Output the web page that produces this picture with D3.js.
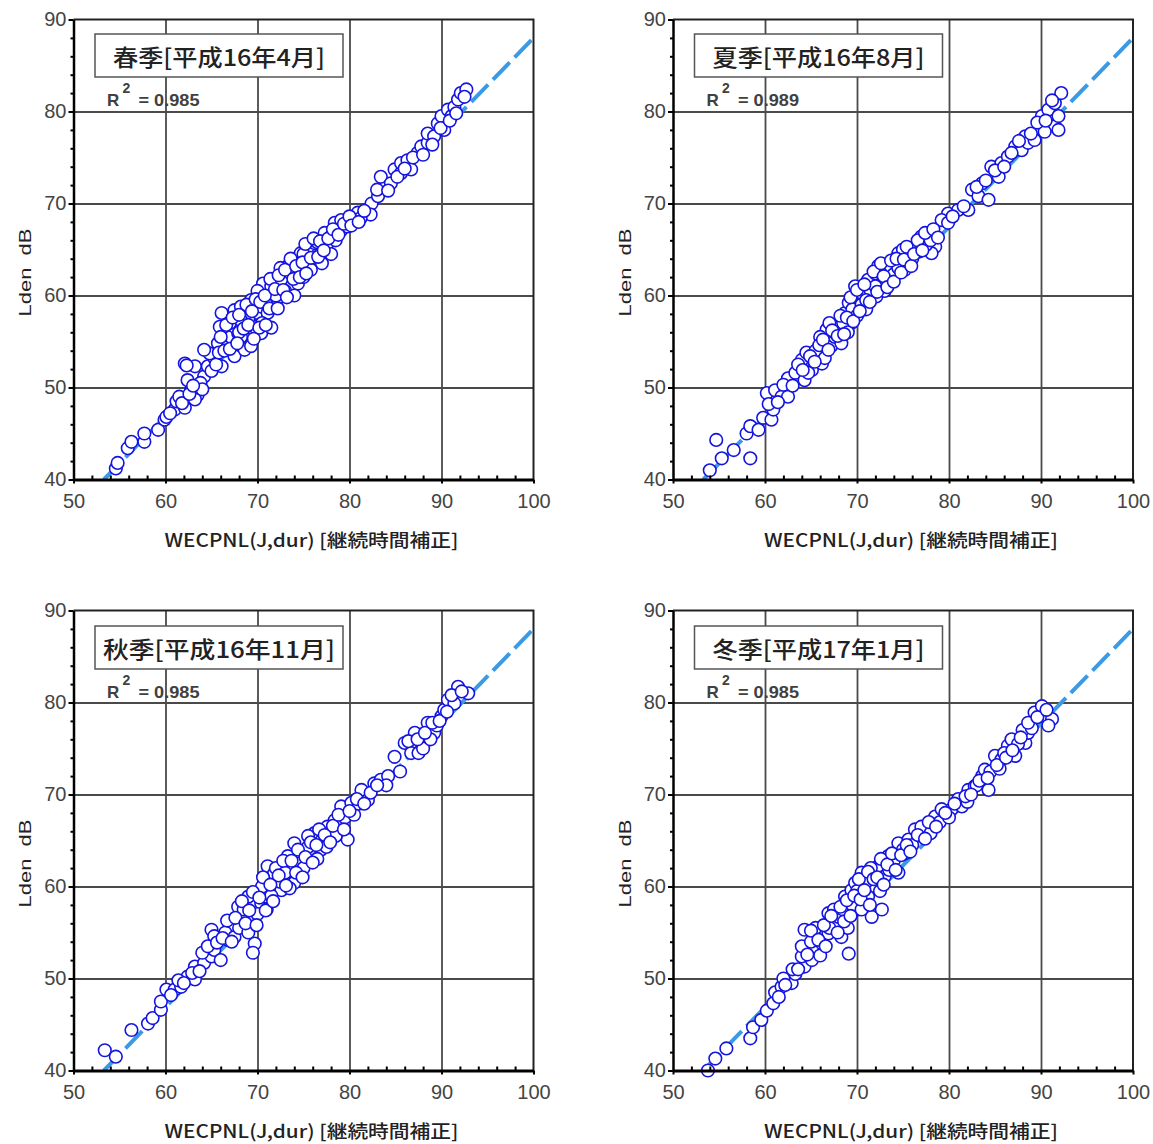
<!DOCTYPE html>
<html><head><meta charset="utf-8">
<script src="https://cdn.jsdelivr.net/npm/d3@7"></script>
<style>body{margin:0;background:#fff} svg{display:block}</style>
</head><body>
<svg id="chart" width="1153" height="1144"></svg>
<script>
const xTicks = [50, 60, 70, 80, 90, 100];
const yTicks = [40, 50, 60, 70, 80, 90];
const titles = ["春季[平成16年4月]", "夏季[平成16年8月]", "秋季[平成16年11月]", "冬季[平成17年1月]"];
const r2Labels = ["0.985", "0.989", "0.985", "0.985"];
const xTitle = "WECPNL(J,dur) [継続時間補正]";
const yTitle = "Lden  dB";
const regLineX = [53.3, 100];
const regLineY = [40, 88];

const spring = [[54.6,41.2],[54.8,41.8],[55.9,43.4],[56.3,44.1],[57.7,44.1],[57.7,45.0],[59.2,45.4],[59.9,46.5],[60.1,46.8],[61.0,47.6],[61.2,48.5],[61.5,49.0],[62.1,47.8],[62.8,49.7],[63.5,49.2],[63.2,48.7],[62.4,50.8],[62.1,52.6],[63.2,52.3],[64.2,51.2],[64.6,52.3],[65.3,53.2],[66.1,52.3],[64.8,53.7],[64.2,54.1],[65.7,54.8],[66.8,54.5],[67.5,53.4],[67.1,55.5],[65.9,56.6],[66.1,58.1],[67.5,58.4],[68.2,57.4],[68.2,58.8],[69.3,59.5],[68.9,58.1],[69.7,56.6],[68.9,55.2],[67.9,55.9],[68.6,54.1],[70.0,58.1],[70.4,58.8],[71.1,60.3],[70.6,61.3],[71.5,61.0],[71.8,59.5],[72.6,61.7],[73.3,63.2],[73.7,61.0],[74.4,62.4],[74.0,63.9],[74.7,64.6],[75.5,65.3],[76.2,63.9],[76.9,64.6],[76.2,65.7],[75.5,63.2],[74.4,61.3],[72.6,59.9],[71.1,58.1],[70.4,55.9],[69.3,54.5],[68.2,55.5],[67.5,56.6],[77.3,66.8],[78.0,66.4],[79.1,67.1],[78.4,67.9],[79.1,68.2],[79.8,67.5],[80.5,68.2],[80.9,69.0],[82.0,69.0],[82.4,70.0],[83.1,70.8],[83.8,71.8],[83.4,72.9],[84.5,72.2],[84.9,73.7],[85.6,73.3],[85.6,74.4],[86.3,74.7],[86.7,73.7],[87.4,75.5],[87.8,76.2],[88.5,76.6],[88.5,77.6],[89.2,77.3],[89.6,78.7],[90.0,79.5],[90.3,78.0],[90.7,80.2],[91.1,79.5],[91.4,80.5],[91.8,81.3],[92.1,82.0],[92.7,82.4],[92.5,81.6],[66.0,55.5],[67.0,57.0],[68.0,56.0],[69.0,57.5],[70.0,60.5],[70.5,57.0],[71.0,59.0],[71.5,56.5],[72.0,60.0],[72.5,63.0],[73.0,60.5],[73.5,62.5],[74.0,60.0],[74.5,63.5],[75.0,62.0],[75.0,64.5],[75.8,62.8],[76.5,65.8],[77.0,63.5],[77.5,65.5],[78.0,64.5],[78.5,66.0],[62.3,52.4],[68.2,57.3],[82.3,68.8],[81.2,68.4],
[60.5,47.2],[61.8,48.3],[62.6,49.3],[63.8,50.5],[64.0,49.8],[63.0,50.2],[65.0,51.8],[65.5,52.5],[65.8,53.8],[66.4,54.0],[66.6,56.8],[67.0,54.2],[67.3,57.6],[67.8,54.8],[68.0,57.9],[68.5,56.4],[68.8,59.0],[69.0,56.8],[69.4,58.3],[69.6,55.3],[69.8,59.6],[70.2,56.5],[70.3,59.3],[70.8,60.0],[70.9,56.8],[71.3,58.6],[71.4,61.8],[71.9,60.7],[72.2,58.6],[72.3,62.2],[72.8,60.6],[73.0,62.8],[73.2,59.8],[73.6,64.0],[73.9,61.8],[74.2,63.2],[74.6,62.0],[74.9,63.6],[75.2,65.6],[75.3,62.4],[75.8,64.1],[76.1,66.2],[76.6,64.2],[76.8,65.9],[77.2,64.9],[77.7,66.2],[78.2,67.2],[78.8,66.6],[79.4,67.8],[80.0,68.6],[80.2,67.6],[81.0,68.0],[81.6,69.2],[83.0,71.5],[84.2,71.4],[85.2,72.9],[86.0,73.8],[86.9,75.0],[88.0,75.3],[89.0,76.4],[89.9,78.2],[90.9,79.0],[91.6,79.8]];

const summer = [[54.0,41.0],[54.7,44.3],[55.3,42.3],[56.6,43.2],[58.4,42.3],[58.0,45.0],[58.4,45.8],[59.3,45.4],[59.8,46.7],[60.7,46.5],[60.9,47.6],[60.2,49.4],[61.1,49.7],[61.8,49.0],[62.5,49.0],[62.5,51.0],[63.3,51.6],[64.0,53.0],[64.3,50.8],[65.1,51.9],[64.7,51.6],[66.2,52.6],[66.7,56.3],[67.2,54.5],[67.6,55.5],[68.3,54.8],[68.0,56.6],[68.7,58.1],[69.4,57.0],[69.1,59.2],[69.8,61.0],[70.5,60.3],[71.2,61.7],[72.0,62.4],[72.1,59.9],[72.3,63.2],[73.4,63.2],[72.7,61.0],[74.1,63.9],[74.5,64.6],[75.6,64.6],[75.2,62.8],[76.3,65.3],[77.0,66.4],[77.8,66.8],[78.5,65.3],[78.1,64.6],[79.6,68.2],[79.9,68.9],[81.0,69.3],[82.1,69.3],[82.5,71.5],[83.2,70.8],[83.6,72.2],[84.3,70.4],[84.6,74.0],[85.4,72.9],[85.7,74.4],[86.4,75.1],[87.2,76.2],[87.9,75.8],[88.3,77.3],[88.6,76.6],[89.3,76.9],[90.1,79.5],[90.8,80.2],[91.5,78.4],[91.5,80.9],[92.2,82.0],[91.9,79.5],[91.9,78.0],[89.8,78.2],[90.4,77.8],[79.2,68.2],[79.9,67.9],[64.5,53.8],[65.5,54.0],[66.0,55.5],[66.5,53.2],[67.0,57.0],[67.5,56.0],[68.5,57.0],[69.0,56.0],[69.5,58.5],[70.0,57.8],[70.5,59.0],[71.0,58.5],[71.5,60.5],[72.0,61.0],[72.5,62.5],[73.0,60.5],[73.5,61.8],[74.0,62.3],[74.5,63.0],[75.0,65.0],[75.5,63.5],[76.0,64.0],[76.8,64.8],[77.5,65.5],[78.0,66.0],
[60.4,48.2],[61.4,48.4],[62.0,50.3],[63.0,50.2],[63.6,52.5],[64.1,51.9],[64.9,53.4],[65.4,52.8],[65.9,54.6],[66.3,55.2],[66.9,54.1],[67.3,56.2],[67.9,55.6],[68.2,57.8],[68.6,55.8],[68.9,57.6],[69.3,59.8],[69.6,57.2],[70.0,60.6],[70.3,58.3],[70.8,61.2],[71.0,59.5],[71.4,59.3],[71.8,62.6],[72.2,60.4],[72.6,63.5],[72.9,62.1],[73.3,60.9],[73.7,63.8],[74.0,61.5],[74.3,64.0],[74.8,62.5],[75.1,63.9],[75.4,65.3],[75.9,63.2],[76.2,64.5],[76.6,66.0],[77.1,64.9],[77.4,66.8],[78.3,67.2],[78.8,66.3],[80.4,68.6],[81.6,69.7],[83.0,71.8],[84.0,72.5],[85.0,73.6],[86.0,74.0],[86.8,75.5],[87.6,76.8],[88.9,77.6],[89.6,78.8],[90.5,79.0],[91.2,81.2]];

const autumn = [[53.4,42.2],[54.6,41.5],[56.3,44.4],[58.1,45.1],[58.6,45.7],[59.5,46.6],[59.5,47.5],[60.1,48.8],[61.0,48.8],[61.7,49.1],[62.4,50.2],[63.2,51.3],[63.2,49.9],[64.2,51.7],[65.0,52.4],[65.3,53.1],[66.0,52.0],[65.0,55.3],[65.3,54.6],[66.8,54.2],[67.1,55.7],[67.9,57.8],[68.2,56.7],[69.0,58.9],[69.3,56.0],[69.7,53.8],[69.5,52.8],[69.7,56.7],[70.4,58.2],[70.8,58.9],[71.1,60.4],[71.1,62.2],[71.8,61.4],[72.6,59.6],[73.3,63.3],[74.0,60.4],[74.0,64.7],[74.7,63.3],[75.5,64.3],[76.2,65.8],[76.9,64.0],[77.6,66.5],[78.4,67.2],[79.1,66.8],[79.1,68.7],[79.8,65.1],[80.2,69.1],[81.3,70.5],[82.0,69.4],[82.7,71.2],[83.4,71.6],[84.2,72.0],[84.9,74.1],[86.0,75.6],[86.7,74.5],[87.1,76.7],[87.8,75.6],[88.5,77.8],[89.2,76.7],[90.0,78.5],[90.3,79.2],[90.7,80.3],[91.4,79.9],[91.8,81.7],[92.9,81.0],[66.5,55.0],[67.5,54.5],[68.0,55.5],[68.5,57.5],[69.0,55.0],[70.0,57.0],[70.5,60.0],[71.0,57.5],[71.5,59.0],[72.0,62.0],[72.5,60.5],[73.0,61.5],[73.5,59.8],[74.5,62.5],[75.0,62.0],[75.5,65.5],[76.5,63.0],[77.0,65.0],[77.5,64.3],[78.0,66.0],[78.5,65.5],[79.5,67.5],[80.5,67.8],[81.0,69.0],[84.0,71.0],[85.5,72.5],[87.5,74.5],[88.0,75.0],[88.8,76.0],[89.5,77.5],
[60.6,48.2],[61.4,49.8],[62.0,49.5],[62.9,50.6],[63.7,50.8],[64.0,52.8],[64.6,53.5],[65.6,53.9],[66.2,54.4],[66.7,56.3],[67.2,54.0],[67.6,56.6],[68.3,58.4],[68.7,56.0],[69.1,57.4],[69.5,59.4],[69.9,55.8],[70.2,58.8],[70.6,61.0],[70.9,57.4],[71.4,60.2],[71.7,58.4],[72.3,61.2],[72.8,62.8],[73.1,60.1],[73.7,62.8],[74.2,61.5],[74.4,64.0],[74.9,61.0],[75.2,63.2],[75.8,64.8],[76.0,62.6],[76.4,64.5],[76.7,66.2],[77.3,65.6],[77.9,64.8],[78.2,66.6],[78.8,67.8],[79.4,66.2],[80.0,68.2],[80.8,69.5],[81.6,69.0],[82.3,70.2],[83.0,71.0],[86.4,75.8],[87.4,76.0],[88.2,76.7],[89.0,77.8],[89.8,78.0],[90.6,79.0],[91.1,80.8],[92.2,81.2]];

const winter = [[53.8,40.0],[54.6,41.3],[55.8,42.4],[58.4,43.5],[58.7,44.7],[59.6,45.5],[60.2,46.5],[60.9,47.3],[61.1,48.5],[61.8,49.1],[62.5,49.8],[62.9,49.5],[63.3,50.5],[64.3,51.3],[64.0,52.4],[65.1,52.0],[65.3,53.1],[64.3,55.3],[66.2,53.8],[66.9,54.9],[66.9,57.1],[67.6,56.0],[68.3,54.5],[69.1,52.7],[68.0,56.7],[68.7,58.9],[69.4,59.6],[70.1,57.5],[69.8,60.4],[70.5,61.5],[71.2,58.9],[71.6,56.7],[72.0,60.0],[72.3,62.2],[72.7,57.5],[73.0,61.1],[73.4,63.3],[74.5,64.7],[75.2,63.6],[75.6,65.1],[76.3,66.2],[77.0,65.5],[77.8,66.2],[78.5,67.6],[79.2,68.4],[80.3,68.4],[81.4,68.7],[82.1,70.5],[82.8,70.9],[83.6,72.0],[83.9,72.7],[84.3,70.5],[85.0,74.2],[85.7,73.8],[86.4,75.3],[86.8,76.0],[87.2,74.2],[88.3,75.6],[88.6,76.7],[89.3,78.9],[90.1,79.6],[90.4,78.5],[91.2,78.2],[90.8,77.5],[62.0,50.0],[63.0,51.0],[64.0,53.5],[65.0,54.0],[65.5,55.5],[66.0,52.5],[67.0,55.5],[67.5,57.5],[68.5,57.5],[69.0,55.5],[69.5,58.0],[70.0,59.5],[70.5,57.5],[71.0,60.5],[71.5,62.0],[72.5,59.5],[73.5,61.8],[74.0,62.8],[74.5,61.5],[75.0,64.0],[76.0,64.5],[77.0,66.5],[78.0,65.8],[79.0,67.0],[80.0,67.5],[81.0,69.5],[82.0,69.2],[83.0,71.0],[84.5,72.5],[85.5,72.8],[86.0,74.5],[87.5,75.5],[88.0,77.0],[89.0,77.2],
[61.5,48.0],[62.2,49.3],[63.6,51.0],[64.6,52.6],[65.0,55.2],[65.8,54.2],[66.4,55.8],[66.6,53.5],[67.2,56.8],[67.9,55.0],[68.2,57.8],[68.6,56.2],[68.9,58.5],[69.3,56.8],[69.7,59.0],[70.2,60.8],[70.4,58.6],[70.8,59.6],[71.2,61.6],[71.4,58.0],[71.8,60.8],[72.2,61.0],[72.6,63.0],[72.9,60.2],[73.3,62.4],[73.8,63.6],[74.2,61.8],[74.8,63.4],[75.4,64.5],[75.8,63.8],[76.6,65.6],[77.4,65.2],[77.8,67.0],[78.6,66.5],[79.6,68.0],[80.6,69.0],[81.8,69.8],[82.4,70.0],[83.3,71.5],[84.2,71.8],[85.2,73.2],[86.2,74.0],[86.9,74.8],[87.8,76.2],[88.6,77.8],[89.6,78.4],[90.6,79.2]];

const seriesList = [spring, summer, autumn, winter];

const panels = [
  {left: 73.5, bottom: 479.5},
  {left: 673, bottom: 479.5},
  {left: 73.5, bottom: 1070.5},
  {left: 673, bottom: 1070.5}
];
const W = 460, H = 460;
const numFont = "'Liberation Sans', Arial, sans-serif";
const jpFont = "'Noto Sans CJK JP', 'Liberation Sans', sans-serif";

const svg = d3.select('#chart');
const xMinor = d3.range(52, 100, 2).filter(v => v % 10 !== 0);
const yMinor = d3.range(42, 90, 2).filter(v => v % 10 !== 0);

panels.forEach((p, i) => {
  const x = d3.scaleLinear().domain([50, 100]).range([p.left, p.left + W]);
  const y = d3.scaleLinear().domain([40, 90]).range([p.bottom, p.bottom - H]);
  const top = p.bottom - H;
  const g = svg.append('g');

  // grid
  g.append('g').attr('transform', `translate(0,${p.bottom})`)
    .call(d3.axisBottom(x).tickValues(xTicks.slice(1, -1)).tickSize(-H).tickFormat(''))
    .call(s => { s.select('.domain').remove(); s.selectAll('line').attr('stroke', '#4a4a4a').attr('stroke-width', 1.8); });
  g.append('g').attr('transform', `translate(${p.left},0)`)
    .call(d3.axisLeft(y).tickValues(yTicks.slice(1, -1)).tickSize(-W).tickFormat(''))
    .call(s => { s.select('.domain').remove(); s.selectAll('line').attr('stroke', '#4a4a4a').attr('stroke-width', 1.8); });

  // frame top & right
  g.append('path')
    .attr('d', `M${x(50)},${y(90)}H${x(100)}V${y(40)}`)
    .attr('fill', 'none').attr('stroke', '#222').attr('stroke-width', 2);

  // regression line
  g.append('line')
    .attr('x1', x(regLineX[0])).attr('y1', y(regLineY[0]))
    .attr('x2', x(regLineX[1])).attr('y2', y(regLineY[1]))
    .attr('stroke', '#3b9ae6').attr('stroke-width', 4)
    .attr('stroke-dasharray', '24,7');

  // points
  g.append('g').selectAll('circle').data(seriesList[i]).join('circle')
    .attr('cx', d => x(d[0])).attr('cy', d => y(d[1])).attr('r', 6.3)
    .attr('fill', '#fff').attr('stroke', '#1414e0').attr('stroke-width', 1.6);

  // title box
  const bx = p.left + 21.5, by = top + 14.5 + (i >= 2 ? 1 : 0);
  g.append('rect').attr('x', bx).attr('y', by).attr('width', 248).attr('height', 43)
    .attr('fill', '#fff').attr('stroke', '#555').attr('stroke-width', 1.5);
  g.append('text').attr('x', bx + 124).attr('y', by + 22)
    .attr('text-anchor', 'middle').attr('dominant-baseline', 'central')
    .attr('font-family', jpFont).attr('font-size', 23).attr('font-weight', 500).attr('fill', '#222')
    .attr('textLength', i === 2 ? 232 : 212).attr('lengthAdjust', 'spacingAndGlyphs')
    .text(titles[i]);

  // R^2
  const rb = top + 86.5 + (i >= 2 ? 1 : 0);
  const rt = g.append('g').attr('font-family', numFont).attr('fill', '#404040').attr('font-weight', 'bold');
  rt.append('text').attr('x', p.left + 33.5).attr('y', rb).attr('font-size', 17).text('R');
  rt.append('text').attr('x', p.left + 49).attr('y', rb - 13).attr('font-size', 14).text('2');
  rt.append('text').attr('x', p.left + 65).attr('y', rb).attr('font-size', 17)
    .attr('textLength', 61).attr('lengthAdjust', 'spacingAndGlyphs').text('= ' + r2Labels[i]);

  // axes
  const ax = g.append('g').attr('transform', `translate(0,${p.bottom})`)
    .call(d3.axisBottom(x).tickValues(xTicks).tickSize(4).tickSizeOuter(0).tickPadding(10));
  ax.select('.domain').attr('stroke', '#000').attr('stroke-width', 3);
  ax.selectAll('line').attr('stroke', '#000').attr('stroke-width', 2);
  ax.selectAll('text').attr('font-family', numFont).attr('font-size', 20).attr('fill', '#444');

  const ay = g.append('g').attr('transform', `translate(${p.left},0)`)
    .call(d3.axisLeft(y).tickValues(yTicks).tickSize(5).tickSizeOuter(0).tickPadding(2));
  ay.select('.domain').attr('stroke', '#000').attr('stroke-width', 2.5);
  ay.selectAll('line').attr('stroke', '#000').attr('stroke-width', 2);
  ay.selectAll('text').attr('font-family', numFont).attr('font-size', 20).attr('fill', '#444');

  // minor ticks
  g.append('g').attr('transform', `translate(0,${p.bottom})`)
    .call(d3.axisBottom(x).tickValues(xMinor).tickSize(-4).tickFormat(''))
    .call(s => { s.select('.domain').remove(); s.selectAll('line').attr('stroke', '#000').attr('stroke-width', 2); });
  g.append('g').attr('transform', `translate(${p.left},0)`)
    .call(d3.axisLeft(y).tickValues(yMinor).tickSize(3).tickFormat(''))
    .call(s => { s.select('.domain').remove(); s.selectAll('line').attr('stroke', '#000').attr('stroke-width', 2); });

  // axis titles
  g.append('text').attr('x', p.left + 238).attr('y', p.bottom + 67)
    .attr('text-anchor', 'middle').attr('font-family', jpFont).attr('font-size', 18).attr('font-weight', 500).attr('fill', '#222')
    .attr('textLength', 294).attr('lengthAdjust', 'spacingAndGlyphs')
    .text(xTitle);
  g.append('text')
    .attr('transform', `translate(${p.left - 48},${p.bottom - 207}) rotate(-90)`)
    .attr('text-anchor', 'middle').attr('dominant-baseline', 'central')
    .attr('font-family', numFont).attr('font-size', 17).attr('fill', '#222')
    .style('white-space', 'pre')
    .attr('textLength', 88).attr('lengthAdjust', 'spacingAndGlyphs')
    .text(yTitle);
});
</script>
</body></html>
